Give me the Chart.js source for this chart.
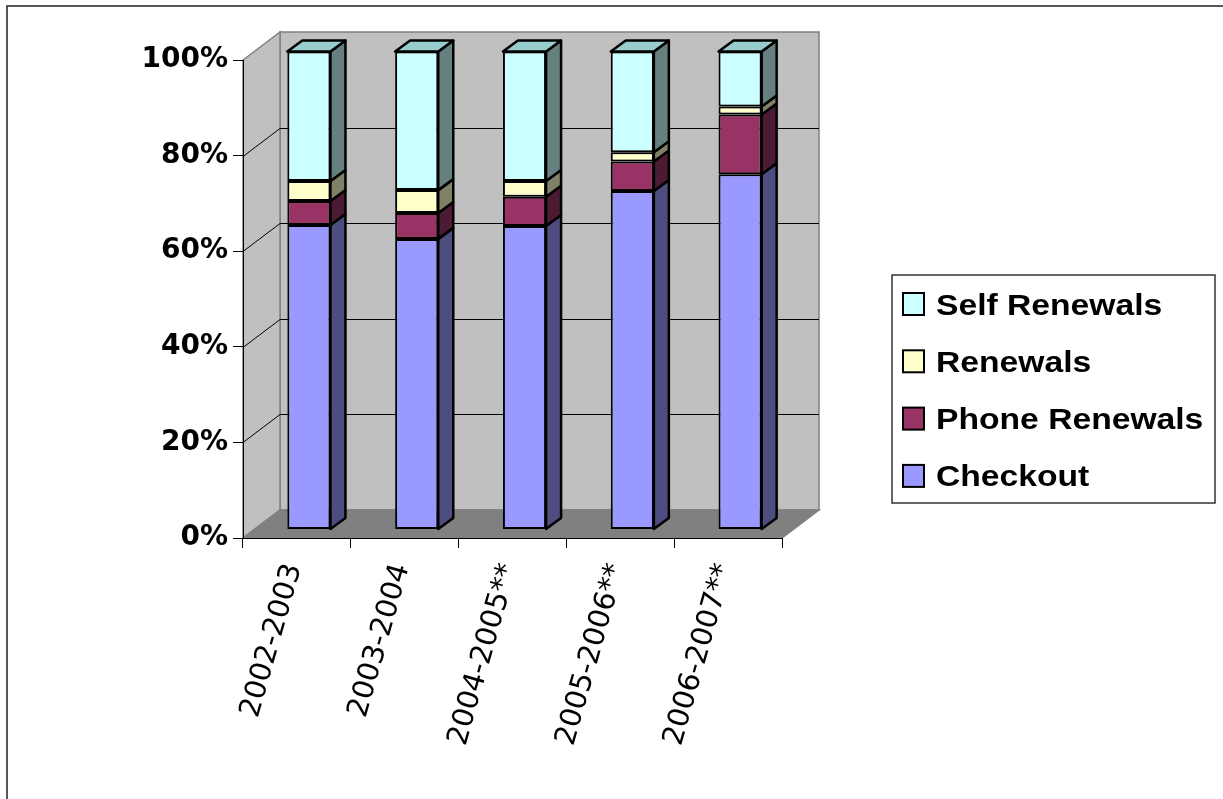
<!DOCTYPE html>
<html>
<head>
<meta charset="utf-8">
<script src="https://cdn.jsdelivr.net/npm/chart.js@4.4.1/dist/chart.umd.min.js"></script>
<style>
  html, body { margin: 0; padding: 0; background: #ffffff; }
  #wrap { width: 1223px; height: 799px; position: relative; }
</style>
</head>
<body>
<div id="wrap"><canvas id="c" width="1223" height="799"></canvas></div>
<script>
// Share of circulation transactions by type, per fiscal year (percent of total)
const years = ['2002-2003', '2003-2004', '2004-2005**', '2005-2006**', '2006-2007**'];
const checkout      = [63.7, 60.8, 63.5, 70.8, 74.3];
const phoneRenewals = [5.0, 5.4, 6.1, 6.2, 12.5];
const renewals      = [4.2, 4.8, 3.3, 1.9, 1.7];
const selfRenewals  = [27.1, 29.0, 27.1, 21.1, 11.5];
const percentStep = 20;

// Box depth (walls/floor) and bar depth, in pixels
const WALL_DX = 37, WALL_DY = -28;
const BAR_SHIFT_X = 12, BAR_SHIFT_Y = -8.5;
const BAR_DX = 15, BAR_DY = -11;

const seriesStyle = [
  { front: '#9999FF', side: '#4D4D80' },
  { front: '#993366', side: '#4D1A33' },
  { front: '#FFFFCC', side: '#808066' },
  { front: '#CCFFFF', side: '#668080', top: '#99CCCC' }
];

function poly(ctx, pts, fill, stroke, lw) {
  ctx.beginPath();
  ctx.moveTo(pts[0][0], pts[0][1]);
  for (let i = 1; i < pts.length; i++) ctx.lineTo(pts[i][0], pts[i][1]);
  ctx.closePath();
  if (fill) { ctx.fillStyle = fill; ctx.fill(); }
  if (stroke) { ctx.strokeStyle = stroke; ctx.lineWidth = lw || 1; ctx.stroke(); }
}

// Back wall, side wall, floor and their gridlines
const wallsPlugin = {
  id: 'walls',
  beforeDraw(chart) {
    const ctx = chart.ctx;
    const xs = chart.scales.x, ys = chart.scales.y;
    const L = xs.left, R = xs.right, T = ys.top, B = ys.bottom;
    ctx.save();
    // outer frame
    ctx.strokeStyle = '#222';
    ctx.lineWidth = 1.5;
    ctx.strokeRect(7, 6, 1300, 900);

    poly(ctx, [[L + WALL_DX, T + WALL_DY], [R + WALL_DX, T + WALL_DY], [R + WALL_DX, B + WALL_DY], [L + WALL_DX, B + WALL_DY]], '#C0C0C0', '#808080', 1.5);
    poly(ctx, [[L, T], [L + WALL_DX, T + WALL_DY], [L + WALL_DX, B + WALL_DY], [L, B]], '#C0C0C0', '#808080', 1.5);
    poly(ctx, [[L, B], [R, B], [R + WALL_DX, B + WALL_DY], [L + WALL_DX, B + WALL_DY]], '#808080', '#808080', 1.5);

    ctx.strokeStyle = '#000';
    ctx.lineWidth = 1;
    for (let v = percentStep; v < 100; v += percentStep) {
      const y = Math.round(ys.getPixelForValue(v)) + 0.5;
      ctx.beginPath();
      ctx.moveTo(L, y);
      ctx.lineTo(L + WALL_DX, y + WALL_DY);
      ctx.lineTo(R + WALL_DX, y + WALL_DY);
      ctx.stroke();
    }
    ctx.restore();
  }
};

// Side and top faces of the columns; columns sit in the middle of the box depth
const columnsPlugin = {
  id: 'columns3d',
  beforeDatasetsDraw(chart) {
    const ctx = chart.ctx;
    ctx.save();
    ctx.translate(BAR_SHIFT_X, BAR_SHIFT_Y);
    const n = chart.data.datasets.length;
    ctx.lineJoin = 'round';
    for (let d = 0; d < n; d++) {
      const meta = chart.getDatasetMeta(d);
      const st = seriesStyle[d];
      meta.data.forEach(el => {
        const p = el.getProps(['x', 'y', 'base', 'width'], true);
        const left = p.x - p.width / 2, right = p.x + p.width / 2;
        poly(ctx, [[right, p.y], [right + BAR_DX, p.y + BAR_DY], [right + BAR_DX, p.base + BAR_DY], [right, p.base]], st.side, '#000', 2.5);
        if (d === n - 1) {
          poly(ctx, [[left, p.y], [right, p.y], [right + BAR_DX, p.y + BAR_DY], [left + BAR_DX, p.y + BAR_DY]], st.top, '#000', 2.5);
        }
      });
    }
  },
  afterDatasetsDraw(chart) {
    chart.ctx.restore();
  }
};

// Boxed legend, top series first
const legendPlugin = {
  id: 'boxLegend',
  afterDraw(chart) {
    const ctx = chart.ctx;
    const x0 = 892, y0 = 275, w = 323, h = 228;
    ctx.save();
    ctx.strokeStyle = '#333';
    ctx.lineWidth = 1.5;
    ctx.strokeRect(x0, y0, w, h);
    const ds = chart.data.datasets.slice().reverse();
    ds.forEach((d, i) => {
      const cy = 304 + i * 57.3;
      ctx.fillStyle = d.backgroundColor;
      ctx.fillRect(903, cy - 11, 21, 22);
      ctx.strokeStyle = '#000';
      ctx.lineWidth = 2;
      ctx.strokeRect(903, cy - 11, 21, 22);
      ctx.save();
      ctx.translate(936, cy + 10.5);
      ctx.scale(1.16, 1);
      ctx.fillStyle = '#000';
      ctx.font = 'bold 29px "Liberation Sans", Arial, sans-serif';
      ctx.textBaseline = 'alphabetic';
      ctx.textAlign = 'left';
      ctx.fillText(d.label, 0, 0);
      ctx.restore();
    });
    ctx.restore();
  }
};

const mk = (label, data, i) => ({
  label, data,
  backgroundColor: seriesStyle[i].front,
  borderColor: '#000',
  borderWidth: 2,
  borderSkipped: false,
  barPercentage: 0.4,
  categoryPercentage: 1.0
});

new Chart(document.getElementById('c'), {
  type: 'bar',
  data: {
    labels: years,
    datasets: [
      mk('Checkout', checkout, 0),
      mk('Phone Renewals', phoneRenewals, 1),
      mk('Renewals', renewals, 2),
      mk('Self Renewals', selfRenewals, 3)
    ]
  },
  options: {
    responsive: false,
    animation: false,
    devicePixelRatio: 1,
    clip: false,
    layout: { padding: { top: 60, left: 0, right: 441, bottom: 0 } },
    plugins: { legend: { display: false }, tooltip: { enabled: false } },
    scales: {
      x: {
        stacked: true,
        grid: { offset: true, drawOnChartArea: false, tickLength: 10, color: '#000', lineWidth: 1 },
        border: { display: true, color: '#000', width: 1 },
        ticks: {
          autoSkip: false, minRotation: 74, maxRotation: 74, padding: 12, labelOffset: -3,
          color: '#000', font: { family: '"DejaVu Sans"', size: 29 }
        },
        afterFit(s) { s.height = 261; }
      },
      y: {
        stacked: true, min: 0, max: 100,
        grid: { drawOnChartArea: false, tickLength: 10, color: '#000', lineWidth: 1 },
        border: { display: true, color: '#000', width: 1 },
        ticks: {
          stepSize: percentStep, padding: 5, color: '#000',
          font: { family: '"DejaVu Sans"', size: 28, weight: 'bold' },
          callback: v => v + '%'
        },
        afterFit(s) { s.width = 243; }
      }
    }
  },
  plugins: [wallsPlugin, columnsPlugin, legendPlugin]
});
</script>
</body>
</html>
